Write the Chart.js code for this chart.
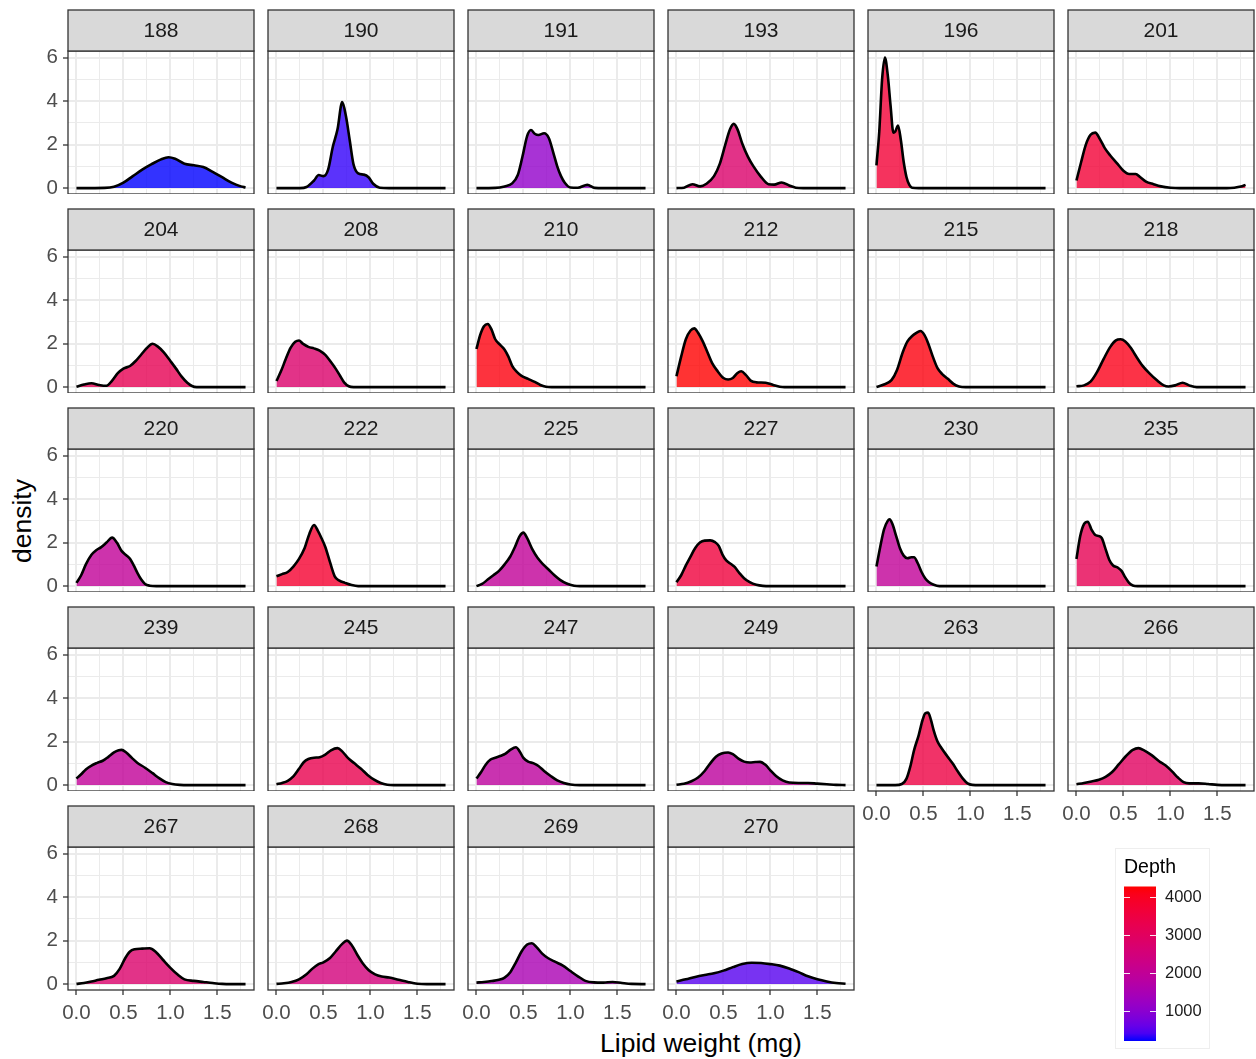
<!DOCTYPE html>
<html>
<head>
<meta charset="utf-8">
<script src="https://cdn.jsdelivr.net/npm/chart.js@4.4.1/dist/chart.umd.min.js"></script>
<style>
  body { margin: 0; background: #fff; }
  #fig { position: relative; width: 1256px; height: 1059px; overflow: hidden;
         font-family: "Liberation Sans", Arial, sans-serif; }
  #fig canvas { position: absolute; }
  .axis-title { position: absolute; font-size: 26.5px; color: #000; white-space: nowrap; }
  #legendBox { position: absolute; left: 1115px; top: 848px; width: 95px; height: 201px;
               border: 1px solid #eeeeee; box-sizing: border-box; }
</style>
</head>
<body>
<div id="fig">
  <div id="legendBox"></div>
  <div class="axis-title" style="left:22px;top:521px;transform:translate(-50%,-50%) rotate(-90deg)">density</div>
  <div class="axis-title" style="left:701px;top:1043px;transform:translate(-50%,-50%)">Lipid weight (mg)</div>
</div>
<script>
const stations = ['188','190','191','193','196','201',
                  '204','208','210','212','215','218',
                  '220','222','225','227','230','235',
                  '239','245','247','249','263','266',
                  '267','268','269','270'];
const depths = [210, 300, 1100, 2800, 3700, 3700,
                3200, 2800, 4200, 4290, 4200, 4100,
                2000, 3800, 2000, 3600, 2000, 3200,
                2000, 3300, 1900, 1900, 3500, 3000,
                2800, 2500, 1500, 480];

const xMajorTicks = [0, 0.5, 1, 1.5];
const xMinorTicks = [0.25, 0.75, 1.25, 1.75];
const yMajorTicks = [0, 2, 4, 6];
const yMinorTicks = [1, 3, 5];
const depthTicks = [1000, 2000, 3000, 4000];
const depthLimits = [210, 4290];

// density curves, [lipid weight, density] per station
const densityCurves = [
  // 188
  [[0,0],[0.3,0.01],[0.4,0.06],[0.5,0.25],[0.6,0.55],[0.7,0.85],[0.8,1.1],[0.9,1.32],[0.98,1.42],[1.05,1.35],[1.15,1.12],[1.25,1.05],[1.35,0.97],[1.45,0.75],[1.55,0.5],[1.65,0.25],[1.75,0.08],[1.8,0.03]],
  // 190
  [[0,0],[0.25,0],[0.32,0.05],[0.4,0.35],[0.45,0.6],[0.5,0.55],[0.55,0.85],[0.6,1.9],[0.65,2.7],[0.7,3.95],[0.74,3.3],[0.78,2.2],[0.82,1.1],[0.87,0.68],[0.93,0.62],[0.98,0.5],[1.03,0.2],[1.1,0.02],[1.2,0],[1.8,0]],
  // 191
  [[0,0],[0.2,0.01],[0.3,0.08],[0.38,0.22],[0.44,0.6],[0.49,1.45],[0.54,2.4],[0.58,2.67],[0.62,2.5],[0.66,2.44],[0.72,2.52],[0.77,2.3],[0.82,1.6],[0.86,1.0],[0.9,0.55],[0.94,0.25],[1.0,0.03],[1.08,0.02],[1.18,0.15],[1.26,0.01],[1.35,0],[1.8,0]],
  // 193
  [[0,0],[0.08,0.02],[0.17,0.18],[0.25,0.08],[0.32,0.2],[0.4,0.55],[0.46,1.1],[0.52,2.0],[0.57,2.7],[0.61,2.95],[0.65,2.7],[0.7,2.05],[0.76,1.45],[0.82,1.0],[0.9,0.52],[0.98,0.18],[1.04,0.16],[1.12,0.26],[1.2,0.12],[1.27,0.02],[1.35,0],[1.8,0]],
  // 196
  [[0,1.05],[0.03,2.6],[0.06,5.0],[0.09,6.0],[0.12,5.2],[0.15,3.8],[0.18,2.55],[0.2,2.6],[0.23,2.88],[0.26,2.2],[0.29,1.2],[0.32,0.5],[0.35,0.15],[0.38,0.02],[0.45,0],[1.8,0]],
  // 201
  [[0,0.35],[0.05,1.2],[0.1,2.0],[0.15,2.45],[0.2,2.55],[0.25,2.25],[0.3,1.85],[0.36,1.5],[0.43,1.15],[0.5,0.8],[0.56,0.65],[0.63,0.65],[0.68,0.5],[0.74,0.3],[0.82,0.18],[0.9,0.08],[1.0,0.02],[1.1,0],[1.6,0],[1.68,0.02],[1.75,0.07],[1.8,0.15]],
  // 204
  [[0,0.02],[0.08,0.12],[0.16,0.18],[0.24,0.1],[0.32,0.06],[0.38,0.3],[0.44,0.64],[0.5,0.85],[0.57,0.97],[0.63,1.2],[0.69,1.5],[0.75,1.8],[0.81,1.99],[0.87,1.85],[0.93,1.6],[1.0,1.2],[1.06,0.85],[1.12,0.48],[1.18,0.2],[1.23,0.05],[1.28,0],[1.8,0]],
  // 208
  [[0,0.28],[0.05,0.75],[0.1,1.3],[0.15,1.8],[0.2,2.08],[0.24,2.14],[0.28,2.0],[0.34,1.85],[0.4,1.78],[0.46,1.68],[0.52,1.48],[0.58,1.15],[0.63,0.85],[0.68,0.5],[0.72,0.22],[0.77,0.04],[0.82,0],[1.8,0]],
  // 210
  [[0,1.75],[0.04,2.4],[0.08,2.8],[0.12,2.9],[0.16,2.65],[0.2,2.2],[0.25,1.95],[0.3,1.72],[0.34,1.4],[0.38,0.98],[0.43,0.7],[0.48,0.52],[0.55,0.38],[0.62,0.24],[0.68,0.1],[0.74,0.02],[0.8,0],[1.8,0]],
  // 212
  [[0,0.5],[0.05,1.4],[0.1,2.2],[0.15,2.6],[0.19,2.7],[0.23,2.5],[0.28,2.1],[0.33,1.6],[0.38,1.1],[0.44,0.72],[0.5,0.42],[0.55,0.35],[0.6,0.42],[0.65,0.65],[0.69,0.73],[0.74,0.55],[0.79,0.3],[0.85,0.22],[0.95,0.2],[1.03,0.1],[1.1,0.02],[1.15,0],[1.8,0]],
  // 215
  [[0,0.01],[0.08,0.12],[0.16,0.32],[0.22,0.8],[0.28,1.6],[0.33,2.1],[0.38,2.35],[0.43,2.5],[0.47,2.58],[0.51,2.4],[0.55,2.02],[0.6,1.4],[0.65,0.87],[0.7,0.6],[0.76,0.38],[0.82,0.15],[0.88,0.03],[0.95,0],[1.8,0]],
  // 218
  [[0,0.04],[0.08,0.08],[0.15,0.25],[0.22,0.7],[0.29,1.3],[0.36,1.85],[0.42,2.15],[0.47,2.2],[0.52,2.1],[0.58,1.8],[0.63,1.45],[0.7,1.0],[0.78,0.62],[0.86,0.3],[0.93,0.08],[0.98,0.03],[1.05,0.08],[1.13,0.2],[1.2,0.08],[1.28,0],[1.8,0]],
  // 220
  [[0,0.15],[0.05,0.5],[0.1,1.0],[0.16,1.44],[0.21,1.65],[0.26,1.78],[0.32,2.0],[0.38,2.23],[0.43,2.0],[0.48,1.62],[0.53,1.42],[0.57,1.26],[0.61,0.95],[0.65,0.6],[0.69,0.3],[0.73,0.1],[0.78,0.02],[0.85,0],[1.8,0]],
  // 222
  [[0,0.45],[0.06,0.55],[0.12,0.65],[0.18,0.9],[0.24,1.25],[0.3,1.75],[0.35,2.4],[0.4,2.81],[0.44,2.55],[0.48,2.2],[0.52,1.8],[0.57,1.1],[0.62,0.45],[0.67,0.25],[0.73,0.15],[0.8,0.05],[0.87,0],[1.8,0]],
  // 225
  [[0,0],[0.06,0.1],[0.12,0.3],[0.18,0.5],[0.24,0.7],[0.3,1.0],[0.36,1.36],[0.41,1.8],[0.46,2.3],[0.5,2.46],[0.54,2.2],[0.6,1.65],[0.65,1.3],[0.71,1.0],[0.77,0.75],[0.83,0.5],[0.89,0.29],[0.96,0.12],[1.04,0.02],[1.1,0],[1.8,0]],
  // 227
  [[0,0.18],[0.05,0.5],[0.1,0.95],[0.15,1.36],[0.2,1.75],[0.25,2.0],[0.3,2.09],[0.36,2.1],[0.41,2.02],[0.45,1.85],[0.49,1.45],[0.53,1.18],[0.58,1.02],[0.62,0.88],[0.67,0.6],[0.72,0.36],[0.78,0.18],[0.85,0.06],[0.92,0.01],[1.0,0],[1.8,0]],
  // 230
  [[0,0.9],[0.04,1.8],[0.08,2.6],[0.12,3.0],[0.14,3.07],[0.17,2.85],[0.21,2.3],[0.25,1.74],[0.29,1.4],[0.33,1.28],[0.37,1.33],[0.4,1.33],[0.44,1.05],[0.48,0.65],[0.52,0.35],[0.56,0.18],[0.61,0.06],[0.67,0],[1.8,0]],
  // 235
  [[0,1.25],[0.04,2.3],[0.08,2.85],[0.12,2.96],[0.16,2.6],[0.2,2.35],[0.24,2.3],[0.27,2.2],[0.31,1.7],[0.35,1.2],[0.39,0.95],[0.44,0.85],[0.48,0.7],[0.52,0.4],[0.56,0.15],[0.6,0.03],[0.65,0],[1.8,0]],
  // 239
  [[0,0.3],[0.05,0.5],[0.1,0.72],[0.16,0.9],[0.22,1.02],[0.28,1.12],[0.34,1.3],[0.4,1.5],[0.45,1.6],[0.48,1.62],[0.53,1.5],[0.59,1.25],[0.65,1.02],[0.73,0.8],[0.81,0.55],[0.88,0.32],[0.95,0.14],[1.02,0.05],[1.1,0.01],[1.2,0],[1.8,0]],
  // 245
  [[0,0.04],[0.06,0.1],[0.12,0.2],[0.18,0.4],[0.24,0.75],[0.29,1.05],[0.34,1.2],[0.4,1.26],[0.46,1.28],[0.52,1.4],[0.58,1.6],[0.65,1.7],[0.7,1.55],[0.76,1.25],[0.83,1.0],[0.9,0.75],[0.97,0.47],[1.04,0.25],[1.11,0.1],[1.18,0.02],[1.25,0],[1.8,0]],
  // 247
  [[0,0.3],[0.05,0.6],[0.1,0.95],[0.15,1.18],[0.2,1.26],[0.26,1.35],[0.31,1.45],[0.36,1.62],[0.42,1.74],[0.46,1.55],[0.5,1.25],[0.55,1.08],[0.61,1.0],[0.66,0.88],[0.72,0.65],[0.79,0.42],[0.86,0.22],[0.93,0.1],[1.0,0.03],[1.1,0],[1.8,0]],
  // 249
  [[0,0.02],[0.08,0.06],[0.16,0.18],[0.23,0.35],[0.3,0.65],[0.36,1.0],[0.42,1.3],[0.48,1.45],[0.55,1.5],[0.6,1.42],[0.66,1.22],[0.72,1.08],[0.78,1.04],[0.84,1.06],[0.89,1.07],[0.95,0.92],[1.0,0.68],[1.06,0.42],[1.13,0.22],[1.2,0.12],[1.3,0.1],[1.4,0.1],[1.5,0.07],[1.6,0.04],[1.7,0.01],[1.8,0]],
  // 263
  [[0,0],[0.2,0],[0.27,0.05],[0.32,0.3],[0.36,0.85],[0.4,1.6],[0.45,2.3],[0.49,2.98],[0.52,3.3],[0.55,3.33],[0.58,3.0],[0.61,2.5],[0.65,2.0],[0.69,1.72],[0.75,1.35],[0.81,1.0],[0.87,0.6],[0.92,0.3],[0.97,0.08],[1.02,0.01],[1.1,0],[1.8,0]],
  // 266
  [[0,0.04],[0.08,0.1],[0.16,0.17],[0.24,0.25],[0.31,0.38],[0.38,0.6],[0.45,0.95],[0.53,1.35],[0.6,1.62],[0.66,1.7],[0.72,1.6],[0.8,1.38],[0.88,1.1],[0.95,0.9],[1.02,0.62],[1.08,0.35],[1.14,0.14],[1.2,0.08],[1.3,0.08],[1.4,0.05],[1.5,0.01],[1.6,0],[1.8,0]],
  // 267
  [[0,0.01],[0.08,0.05],[0.16,0.12],[0.24,0.2],[0.32,0.27],[0.4,0.38],[0.46,0.7],[0.52,1.2],[0.57,1.5],[0.62,1.6],[0.7,1.63],[0.78,1.65],[0.84,1.5],[0.92,1.12],[1.0,0.75],[1.08,0.43],[1.15,0.22],[1.25,0.15],[1.35,0.1],[1.45,0.05],[1.55,0.01],[1.65,0],[1.8,0]],
  // 268
  [[0,0.01],[0.08,0.04],[0.16,0.1],[0.24,0.22],[0.32,0.45],[0.38,0.7],[0.44,0.9],[0.5,1.0],[0.57,1.2],[0.63,1.5],[0.7,1.85],[0.75,2.0],[0.8,1.8],[0.86,1.35],[0.92,0.95],[0.98,0.65],[1.05,0.45],[1.12,0.35],[1.2,0.3],[1.3,0.2],[1.4,0.1],[1.5,0.02],[1.6,0],[1.8,0]],
  // 269
  [[0,0.07],[0.08,0.1],[0.16,0.14],[0.24,0.2],[0.3,0.3],[0.36,0.55],[0.42,1.0],[0.48,1.5],[0.54,1.82],[0.59,1.88],[0.64,1.7],[0.7,1.4],[0.76,1.2],[0.84,1.02],[0.92,0.85],[1.0,0.6],[1.08,0.36],[1.16,0.15],[1.25,0.08],[1.35,0.07],[1.45,0.1],[1.55,0.05],[1.65,0.01],[1.8,0]],
  // 270
  [[0,0.12],[0.1,0.22],[0.2,0.33],[0.3,0.42],[0.4,0.5],[0.5,0.62],[0.6,0.78],[0.7,0.92],[0.8,0.98],[0.9,0.97],[1.0,0.92],[1.1,0.85],[1.2,0.72],[1.3,0.55],[1.4,0.36],[1.5,0.22],[1.6,0.12],[1.7,0.05],[1.8,0.02]]
];

Chart.defaults.font.family = '"Liberation Sans", Arial, sans-serif';

// blue -> red gradient through Lab, like ggplot's scale_fill_gradient
function toLab(hex) {
  const rgb = [1, 3, 5].map(k => parseInt(hex.substr(k, 2), 16) / 255)
    .map(c => c <= 0.04045 ? c / 12.92 : Math.pow((c + 0.055) / 1.055, 2.4));
  const [r, g, b] = rgb;
  const X = (0.4124 * r + 0.3576 * g + 0.1805 * b) / 0.95047;
  const Y = 0.2126 * r + 0.7152 * g + 0.0722 * b;
  const Z = (0.0193 * r + 0.1192 * g + 0.9505 * b) / 1.08883;
  const f = t => t > 0.008856 ? Math.cbrt(t) : 7.787 * t + 16 / 116;
  return [116 * f(Y) - 16, 500 * (f(X) - f(Y)), 200 * (f(Y) - f(Z))];
}
function fromLab([L, a, bb]) {
  const fy = (L + 16) / 116, fx = fy + a / 500, fz = fy - bb / 200;
  const inv = t => t * t * t > 0.008856 ? t * t * t : (t - 16 / 116) / 7.787;
  const X = inv(fx) * 0.95047, Y = inv(fy), Z = inv(fz) * 1.08883;
  const lin = [3.2406 * X - 1.5372 * Y - 0.4986 * Z,
               -0.9689 * X + 1.8758 * Y + 0.0415 * Z,
               0.0557 * X - 0.2040 * Y + 1.0570 * Z];
  return lin.map(c => c <= 0.0031308 ? 12.92 * c : 1.055 * Math.pow(c, 1 / 2.4) - 0.055)
    .map(c => Math.round(255 * Math.min(1, Math.max(0, c))));
}
const labLow = toLab('#0000FF'), labHigh = toLab('#FF0000');
function depthColor(d, alpha) {
  const t = (d - depthLimits[0]) / (depthLimits[1] - depthLimits[0]);
  const [r, g, b] = fromLab(labLow.map((v, k) => v + t * (labHigh[k] - v)));
  return `rgba(${r},${g},${b},${alpha})`;
}

const near = (list, v) => list.some(t => Math.abs(t - v) < 1e-6);

// panel frame + grey strip with the station label
const facetFrame = {
  id: 'facetFrame',
  afterDraw(chart, args, opts) {
    const { ctx, chartArea: a } = chart;
    ctx.save();
    ctx.lineWidth = 1.3;
    ctx.strokeStyle = '#333333';
    ctx.strokeRect(a.left, a.top, a.width, a.height);
    ctx.fillStyle = '#d9d9d9';
    ctx.fillRect(a.left, a.top - 41, a.width, 41);
    ctx.strokeRect(a.left, a.top - 41, a.width, 41);
    ctx.fillStyle = '#1a1a1a';
    ctx.font = '21px "Liberation Sans", Arial, sans-serif';
    ctx.textAlign = 'center';
    ctx.textBaseline = 'middle';
    ctx.fillText(opts.label, (a.left + a.right) / 2, a.top - 19.5);
    ctx.restore();
  }
};

const fig = document.getElementById('fig');
const PAD_L = 24, Y_W = 44, PLOT_W = 186, PLOT_H = 143, STRIP = 42, X_H = 34, PAD_R = 8;

stations.forEach((st, i) => {
  const r = Math.floor(i / 6), c = i % 6;
  const hasY = c === 0, hasX = i + 6 >= stations.length;
  const plotLeft = 68 + 200 * c, plotTop = 51 + 199 * r;
  const cv = document.createElement('canvas');
  const w = PAD_L + (hasY ? Y_W : 0) + PLOT_W + PAD_R;
  const h = STRIP + PLOT_H + (hasX ? X_H : 0);
  cv.width = w; cv.height = h;
  cv.style.left = (plotLeft - PAD_L - (hasY ? Y_W : 0)) + 'px';
  cv.style.top = (plotTop - STRIP) + 'px';
  cv.style.width = w + 'px'; cv.style.height = h + 'px';
  fig.appendChild(cv);

  new Chart(cv, {
    type: 'line',
    data: {
      datasets: [{
        data: densityCurves[i].map(([x, y]) => ({ x, y })),
        borderColor: '#000',
        borderWidth: 2.6,
        backgroundColor: depthColor(depths[i], 0.8),
        fill: 'origin',
        pointRadius: 0,
        cubicInterpolationMode: 'monotone'
      }]
    },
    options: {
      responsive: false,
      animation: false,
      devicePixelRatio: 1,
      events: [],
      layout: { padding: { top: STRIP, left: PAD_L, right: PAD_R, bottom: 0 } },
      plugins: { legend: { display: false }, tooltip: { enabled: false }, facetFrame: { label: st } },
      scales: {
        x: {
          type: 'linear', min: -0.09, max: 1.89, bounds: 'data',
          afterBuildTicks: s => { s.ticks = xMajorTicks.concat(xMinorTicks).sort((a, b) => a - b).map(v => ({ value: v })); },
          afterFit: s => { s.height = hasX ? X_H : 0; s.paddingLeft = 0; s.paddingRight = 0; },
          border: { display: false },
          grid: {
            color: '#ebebeb',
            lineWidth: ctx => near(xMajorTicks, ctx.tick.value) ? 2 : 1,
            drawTicks: hasX, tickLength: 5, tickWidth: 1.3,
            tickColor: ctx => near(xMajorTicks, ctx.tick.value) ? '#333333' : 'rgba(0,0,0,0)'
          },
          ticks: {
            display: hasX, autoSkip: false, maxRotation: 0, minRotation: 0, padding: 6,
            color: '#4d4d4d', font: { size: 20.5 },
            callback: v => near(xMajorTicks, v) ? v.toFixed(1) : ''
          }
        },
        y: {
          type: 'linear', min: -0.27, max: 6.3, bounds: 'data',
          afterBuildTicks: s => { s.ticks = yMajorTicks.concat(yMinorTicks).sort((a, b) => a - b).map(v => ({ value: v })); },
          afterFit: s => { s.width = hasY ? Y_W : 0; s.paddingTop = 0; s.paddingBottom = 0; },
          border: { display: false },
          grid: {
            color: '#ebebeb',
            lineWidth: ctx => near(yMajorTicks, ctx.tick.value) ? 2 : 1,
            drawTicks: hasY, tickLength: 5, tickWidth: 1.3,
            tickColor: ctx => near(yMajorTicks, ctx.tick.value) ? '#333333' : 'rgba(0,0,0,0)'
          },
          ticks: {
            display: hasY, autoSkip: false, padding: 5,
            color: '#4d4d4d', font: { size: 20.5 },
            callback: v => near(yMajorTicks, v) ? String(v) : ''
          }
        }
      }
    },
    plugins: [facetFrame]
  });
});

// colour bar legend
const legendTicks = {
  id: 'legendTicks',
  afterDatasetsDraw(chart) {
    const { ctx, chartArea: a, scales } = chart;
    ctx.save();
    ctx.strokeStyle = 'rgba(255,255,255,0.9)';
    ctx.lineWidth = 1;
    depthTicks.forEach(v => {
      const y = Math.round(scales.y.getPixelForValue(v)) + 0.5;
      ctx.beginPath();
      ctx.moveTo(a.left, y); ctx.lineTo(a.left + 6, y);
      ctx.moveTo(a.right - 6, y); ctx.lineTo(a.right, y);
      ctx.stroke();
    });
    ctx.restore();
  }
};
const lc = document.createElement('canvas');
lc.width = 90; lc.height = 189;
lc.style.left = '1124px'; lc.style.top = '852px';
lc.style.width = '90px'; lc.style.height = '189px';
fig.appendChild(lc);
new Chart(lc, {
  type: 'bar',
  data: {
    labels: ['Depth'],
    datasets: [{
      data: [depthLimits],
      barPercentage: 1, categoryPercentage: 1, borderWidth: 0,
      backgroundColor: c => {
        const ch = c.chart;
        if (!ch.chartArea) return depthColor(2000, 1);
        const y = ch.scales.y;
        const g = ch.ctx.createLinearGradient(0, y.getPixelForValue(depthLimits[0]), 0, y.getPixelForValue(depthLimits[1]));
        for (let k = 0; k <= 20; k++) {
          g.addColorStop(k / 20, depthColor(depthLimits[0] + k / 20 * (depthLimits[1] - depthLimits[0]), 1));
        }
        return g;
      }
    }]
  },
  options: {
    responsive: false, animation: false, devicePixelRatio: 1, events: [],
    layout: { padding: 0 },
    plugins: {
      legend: { display: false }, tooltip: { enabled: false },
      title: { display: true, text: 'Depth', align: 'start', color: '#000',
               font: { size: 19.5, weight: 'normal' }, padding: { top: 4, bottom: 7 } }
    },
    scales: {
      x: { display: false },
      y: {
        position: 'right', min: depthLimits[0], max: depthLimits[1], bounds: 'data',
        afterBuildTicks: s => { s.ticks = depthTicks.map(v => ({ value: v })); },
        afterFit: s => { s.width = 58; s.paddingTop = 0; s.paddingBottom = 0; },
        border: { display: false },
        grid: { display: false, drawTicks: false },
        ticks: { color: '#1a1a1a', font: { size: 16.5 }, padding: 9, callback: v => String(v) }
      }
    }
  },
  plugins: [legendTicks]
});
</script>
</body>
</html>
